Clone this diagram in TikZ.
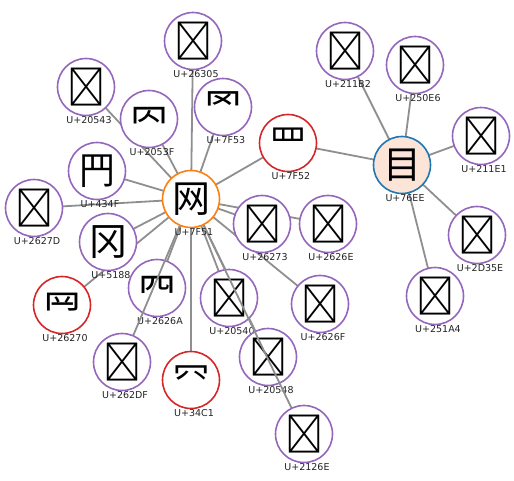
\documentclass[tikz,border=0pt]{standalone}
\usepackage{fontspec}
\newfontfamily\cjksc{Noto Sans CJK SC}
\newfontfamily\cjktc{Noto Sans CJK TC}
\newfontfamily\cjkjp{Noto Sans CJK JP}
\newfontfamily\cjkkr{Noto Sans CJK KR}
\newfontfamily\labfont{DejaVu Sans}
\newcommand{\hz}[1]{%
  \cjksc\iffontchar\font"#1 \char"#1 \else
  \cjktc\iffontchar\font"#1 \char"#1 \else
  \cjkjp\iffontchar\font"#1 \char"#1 \else
  \cjkkr\iffontchar\font"#1 \char"#1 \else
  \cjksc\char"#1 \fi\fi\fi\fi}
\definecolor{cpurple}{HTML}{9467BD}
\definecolor{cred}{HTML}{D62728}
\definecolor{corange}{HTML}{FF7F0E}
\definecolor{cblue}{HTML}{1F77B4}
\definecolor{cpeach}{HTML}{FCE4D6}
\definecolor{cedge}{HTML}{8F8F8F}
\definecolor{ctext}{HTML}{222222}
\tikzset{
  hanzi/.style={circle, draw=cpurple, fill=white, line width=1.6pt, minimum size=57pt, inner sep=0pt, font=\fontsize{38}{38}\selectfont},
  redn/.style={hanzi, draw=cred},
  orangen/.style={hanzi, draw=corange},
  bluen/.style={hanzi, draw=cblue, fill=cpeach},
  lab/.style={inner sep=0pt, text=ctext, font=\labfont\fontsize{9.5}{10}\selectfont},
  edge/.style={draw=cedge, line width=1.8pt}
}
\newcommand{\nd}[5][hanzi]{%
  \node[#1] (n#2) at (#3,#4) {\hz{#5}};
  \node[lab] (l#2) at (#3+3,#4+33) {U+#5};}
\begin{document}
\begin{tikzpicture}[x=1pt,y=-1pt]
\useasboundingbox (0,0) rectangle (514,480);
% coordinates for edge ends
\coordinate (c7F51) at (191,199);
\coordinate (c76EE) at (402,165);
\coordinate (c7F52) at (288,143);
\coordinate (c7F53) at (223,107);
\coordinate (c26305) at (193,41);
\coordinate (c20543) at (86,87);
\coordinate (c2053F) at (149,119);
\coordinate (c434F) at (97,171);
\coordinate (c2627D) at (34,208);
\coordinate (c5188) at (108,242);
\coordinate (c26270) at (62,305);
\coordinate (c2626A) at (157,288);
\coordinate (c262DF) at (122,362);
\coordinate (c34C1) at (191,380);
\coordinate (c20540) at (229,298);
\coordinate (c20548) at (268,357);
\coordinate (c2126E) at (304,434);
\coordinate (c26273) at (262,224);
\coordinate (c2626E) at (328,224);
\coordinate (c2626F) at (320,304);
\coordinate (c211B2) at (345,51);
\coordinate (c250E6) at (415,65);
\coordinate (c211E1) at (481,136);
\coordinate (c2D35E) at (477,235);
\coordinate (c251A4) at (435,296);
% edges behind nodes
\foreach \t in {7F52,7F53,26305,20543,2053F,434F,2627D,5188,26270,2626A,34C1,20540,20548,26273,2626E,2626F}
  \draw[edge] (c7F51) -- (c\t);
\foreach \t in {7F52,211B2,250E6,211E1,2D35E,251A4}
  \draw[edge] (c76EE) -- (c\t);
% nodes that lie under some edges
\nd{2626A}{157}{288}{2626A}
\nd{20540}{229}{298}{20540}
\nd{20548}{268}{357}{20548}
% edges drawn over those nodes
\draw[edge] (c7F51) -- (c262DF);
\draw[edge] (c7F51) -- (c2126E);
% remaining nodes
\nd[orangen]{7F51}{191}{199}{7F51}
\nd[redn]{7F52}{288}{143}{7F52}
\nd{7F53}{223}{107}{7F53}
\nd[bluen]{76EE}{402}{165}{76EE}
\nd{26305}{193}{41}{26305}
\nd{20543}{86}{87}{20543}
\nd{2053F}{149}{119}{2053F}
\nd{434F}{97}{171}{434F}
\nd{2627D}{34}{208}{2627D}
\nd{5188}{108}{242}{5188}
\nd[redn]{26270}{62}{305}{26270}
\nd{262DF}{122}{362}{262DF}
\nd[redn]{34C1}{191}{380}{34C1}
\nd{2126E}{304}{434}{2126E}
\nd{26273}{262}{224}{26273}
\nd{2626E}{328}{224}{2626E}
\nd{2626F}{320}{304}{2626F}
\nd{211B2}{345}{51}{211B2}
\nd{250E6}{415}{65}{250E6}
\nd{211E1}{481}{136}{211E1}
\nd{2D35E}{477}{235}{2D35E}
\nd{251A4}{435}{296}{251A4}
\end{tikzpicture}
\end{document}
